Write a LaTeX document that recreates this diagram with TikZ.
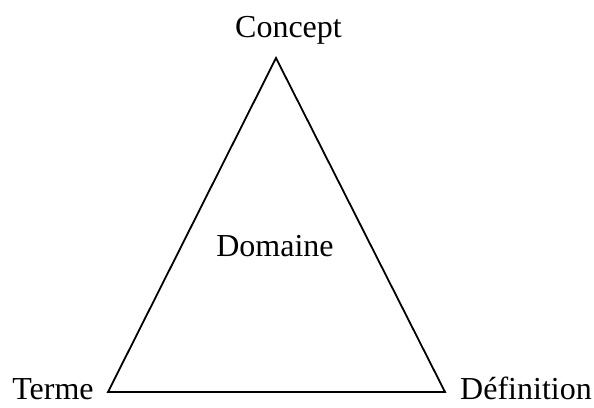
\documentclass[tikz,border=0pt]{standalone}
\usepackage{fontspec}
\setmainfont{Liberation Serif}
\begin{document}
\begin{tikzpicture}[x=1pt,y=-1pt,
  lbl/.style={anchor=base,inner sep=0pt,font=\fontsize{32}{36}\selectfont},
  edge/.style={line width=1.8pt,line join=miter}]
\useasboundingbox (0,0) rectangle (594,407);
% vertices of the triangle
\coordinate (top) at (276,58);
\coordinate (left) at (108,392);
\coordinate (right) at (445,392);
\draw[edge] (top) -- (left) -- (right) -- cycle;
% labels
\node[lbl] (concept) at (288.5,37) {Concept};
\node[lbl] (domaine) at (275,256) {Domaine};
\node[lbl] (terme) at (53,399) {Terme};
\node[lbl] (definition) at (526,399) {Définition};
\end{tikzpicture}
\end{document}
